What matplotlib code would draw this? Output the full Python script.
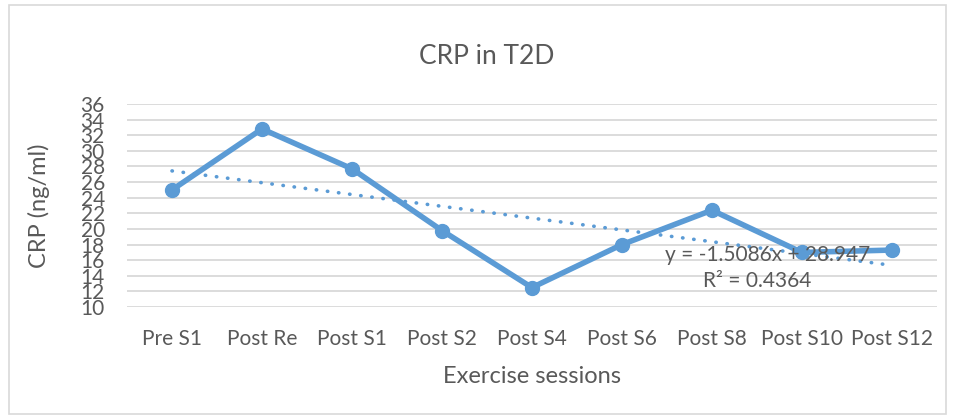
import numpy as np
import matplotlib.pyplot as plt
from matplotlib.patches import Rectangle

# CRP values across exercise sessions
sessions = ['Pre S1', 'Post Re', 'Post S1', 'Post S2', 'Post S4',
            'Post S6', 'Post S8', 'Post S10', 'Post S12']
crp = [25.0, 32.8, 27.7, 19.8, 12.5, 18.0, 22.4, 17.0, 17.3]
y_ticks = list(range(10, 37, 2))

plt.rcParams['font.family'] = ['Lato', 'DejaVu Sans']
gris = '#595959'
azul = '#5b9bd5'

fig = plt.figure(figsize=(9.55, 4.19), dpi=100)
fig.patches.append(Rectangle((0.009, 0.012), 0.982, 0.976, transform=fig.transFigure,
                             fill=False, ec='#d9d9d9', lw=1.2))
ax = fig.add_axes([0.133, 0.267, 0.848, 0.485])

x = np.arange(1, len(sessions) + 1)
ax.plot(x, crp, color=azul, lw=4, marker='o', ms=10, zorder=3, solid_joinstyle='round')

# linear trend line
m, b = np.polyfit(x, crp, 1)
ax.plot(x, m * x + b, color=azul, lw=2.6, ls=(0, (0.1, 3.0)), dash_capstyle='round', zorder=2)
ax.text(7.62, 16.7, 'y = -1.5086x + 28.947', ha='center', va='center', fontsize=15, color=gris, zorder=4)
ax.text(7.5, 13.3, 'R² = 0.4364', ha='center', va='center', fontsize=15, color=gris, zorder=4)

ax.set_xlim(0.5, len(sessions) + 0.5)
ax.set_ylim(10, 36)
ax.set_yticks(y_ticks)
ax.set_xticks(x)
ax.set_xticklabels(sessions)
ax.tick_params(length=0, labelsize=15, colors=gris)
ax.tick_params(axis='x', pad=16)
ax.tick_params(axis='y', pad=16)
ax.grid(axis='y', color='#d9d9d9', lw=1.3)
ax.set_axisbelow(True)
for s in ax.spines.values():
    s.set_visible(False)

ax.set_ylabel('CRP (ng/ml)', fontsize=17, color=gris, labelpad=22)
ax.set_xlabel('Exercise sessions', fontsize=17, color=gris, labelpad=12)
fig.text(0.51, 0.865, 'CRP in T2D', ha='center', va='center', fontsize=19, color=gris)

fig.savefig('out.png', dpi=100)
